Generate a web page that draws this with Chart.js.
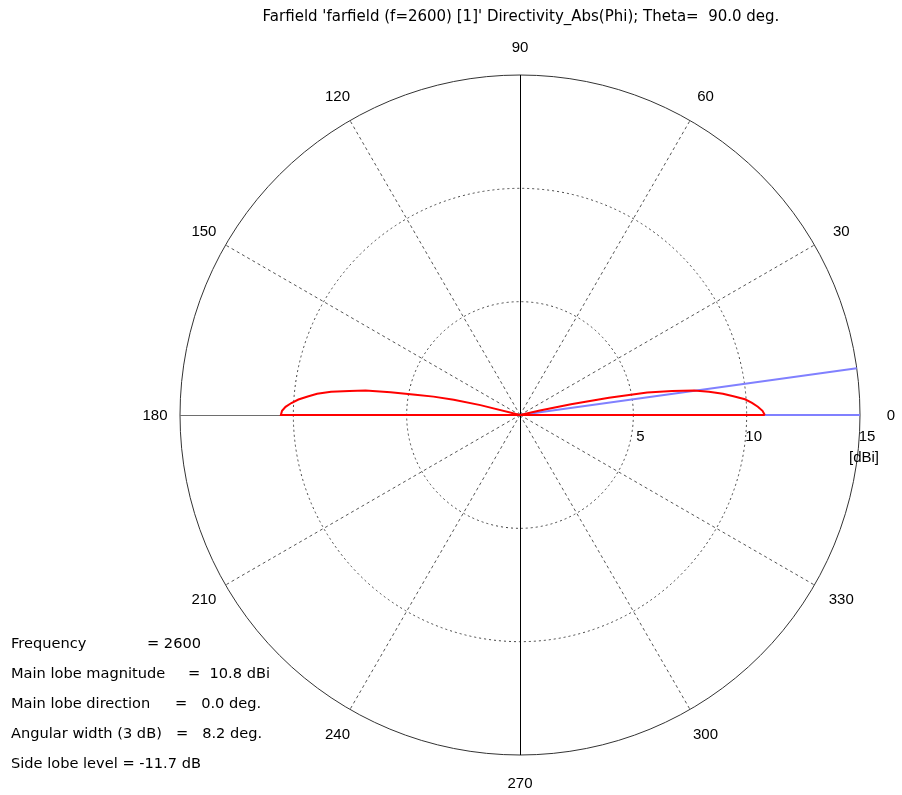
<!DOCTYPE html>
<html>
<head>
<meta charset="utf-8">
<script src="https://cdn.jsdelivr.net/npm/chart.js@4/dist/chart.umd.min.js"></script>
<style>
  html, body { margin: 0; padding: 0; background: #fff; }
  canvas { display: block; }
</style>
</head>
<body>
<canvas id="farfield" width="902" height="795"></canvas>
<script>
// directivity (dBi) vs phi (deg), negative values clipped to 0
const phiDeg = [0, 1, 2, 3, 4, 5, 6, 7, 8, 9, 10, 11, 12, 13, 14,
  165, 166, 167, 168, 169, 170, 171, 172, 173, 174, 175, 176, 177, 178, 179, 180, 181,
  359, 360];
const directivity = [10.8, 10.7, 10.5, 10.25, 9.95, 9.45, 9.0, 8.4, 7.75, 6.8, 5.7, 4.0, 2.3, 0.9, 0,
  0, 1.8, 3.0, 3.9, 4.7, 5.8, 6.9, 7.6, 8.4, 9.0, 9.4, 9.8, 10.1, 10.35, 10.5, 10.55, 0,
  0, 10.8];

// blue marker lines (main lobe / beam edge)
const markerPhi = [7.9, 0];
const markerR = 15;

const rMax = 15;
const ringValues = [5, 10, 15];
const spokeAngles = [30, 60, 120, 150, 210, 240, 300, 330];
const angleLabels = ['0', '30', '60', '90', '120', '150', '180', '210', '240', '270', '300', '330'];

const titleText = "Farfield 'farfield (f=2600) [1]' Directivity_Abs(Phi); Theta=  90.0 deg.";
const infoLines = [
  ['Frequency', '= 2600'],
  ['Main lobe magnitude', '=  10.8 dBi'],
  ['Main lobe direction', '=   0.0 deg.'],
  ['Angular width (3 dB)', '=   8.2 deg.'],
  ['Side lobe level = -11.7 dB', '']
];

const toXY = (r, deg) => ({
  x: r * Math.cos(deg * Math.PI / 180),
  y: r * Math.sin(deg * Math.PI / 180)
});

const redPoints = phiDeg.map((p, i) => toXY(directivity[i], p));
const bluePoints = [toXY(markerR, markerPhi[0]), { x: 0, y: 0 }, toXY(markerR, markerPhi[1])];

const FONT = '"Liberation Sans", Arial, sans-serif';
const WIDE = '"DejaVu Sans", sans-serif';

const polarGrid = {
  id: 'polarGrid',
  beforeDatasetsDraw(chart) {
    const { ctx, scales: { x, y } } = chart;
    const cx = x.getPixelForValue(0), cy = y.getPixelForValue(0);
    const k = x.getPixelForValue(1) - cx;
    ctx.save();
    ctx.lineWidth = 1;
    // rings: dotted inner, solid outer
    ringValues.forEach(v => {
      ctx.setLineDash(v === rMax ? [] : [2, 3]);
      ctx.strokeStyle = v === rMax ? '#333' : '#444';
      ctx.beginPath();
      ctx.arc(cx, cy, v * k, 0, Math.PI * 2);
      ctx.stroke();
    });
    // dashed spokes
    ctx.setLineDash([3, 3]);
    ctx.strokeStyle = '#555';
    spokeAngles.forEach(a => {
      const p = toXY(rMax, a);
      ctx.beginPath();
      ctx.moveTo(cx, cy);
      ctx.lineTo(x.getPixelForValue(p.x), y.getPixelForValue(p.y));
      ctx.stroke();
    });
    ctx.setLineDash([]);
    // axes
    ctx.strokeStyle = '#000';
    ctx.beginPath();
    ctx.moveTo(cx + 0.5, y.getPixelForValue(rMax));
    ctx.lineTo(cx + 0.5, y.getPixelForValue(-rMax));
    ctx.stroke();
    ctx.strokeStyle = '#6e6e6e';
    ctx.beginPath();
    ctx.moveTo(x.getPixelForValue(-rMax), cy + 0.5);
    ctx.lineTo(cx, cy + 0.5);
    ctx.stroke();
    ctx.restore();
  },
  afterDraw(chart) {
    const { ctx, scales: { x, y } } = chart;
    const cx = x.getPixelForValue(0), cy = y.getPixelForValue(0);
    const k = x.getPixelForValue(1) - cx;
    ctx.save();
    ctx.fillStyle = '#000';
    ctx.textAlign = 'center';
    ctx.textBaseline = 'middle';
    ctx.font = '15px ' + WIDE;
    ctx.fillText(titleText, cx + 1, 17);
    // angle labels
    ctx.font = '15px ' + FONT;
    angleLabels.forEach(lbl => {
      const a = Number(lbl) * Math.PI / 180;
      const rr = rMax * k + 28;
      const dx = 3 * Math.abs(Math.cos(a));
      ctx.fillText(lbl, cx + rr * Math.cos(a) + dx, cy - rr * Math.sin(a) + 1);
    });
    // radial tick labels
    ringValues.forEach(v => {
      ctx.fillText(String(v), cx + v * k + 7, cy + 22);
    });
    ctx.fillText('[dBi]', cx + rMax * k + 4, cy + 43);
    // info block
    ctx.textAlign = 'left';
    ctx.font = '14.6px ' + WIDE;
    const valueX = [147, 188, 175, 176];
    infoLines.forEach((ln, i) => {
      const ty = 644 + i * 30;
      ctx.fillText(ln[0], 11, ty);
      if (ln[1]) ctx.fillText(ln[1], valueX[i], ty);
    });
    ctx.restore();
  }
};

new Chart(document.getElementById('farfield'), {
  type: 'scatter',
  data: {
    datasets: [
      {
        label: 'Directivity',
        data: redPoints,
        showLine: true,
        borderColor: '#ff0000',
        borderWidth: 2,
        pointRadius: 0,
        tension: 0,
        order: 0
      },
      {
        label: 'Beam',
        data: bluePoints,
        showLine: true,
        borderColor: '#8080ff',
        borderWidth: 2,
        pointRadius: 0,
        tension: 0,
        order: 1
      }
    ]
  },
  options: {
    responsive: false,
    animation: false,
    layout: { padding: { left: 180, right: 42, top: 75, bottom: 40 } },
    scales: {
      x: { display: false, min: -rMax, max: rMax },
      y: { display: false, min: -rMax, max: rMax }
    },
    plugins: {
      legend: { display: false },
      tooltip: { enabled: false },
      title: { display: false }
    }
  },
  plugins: [polarGrid]
});
</script>
</body>
</html>
